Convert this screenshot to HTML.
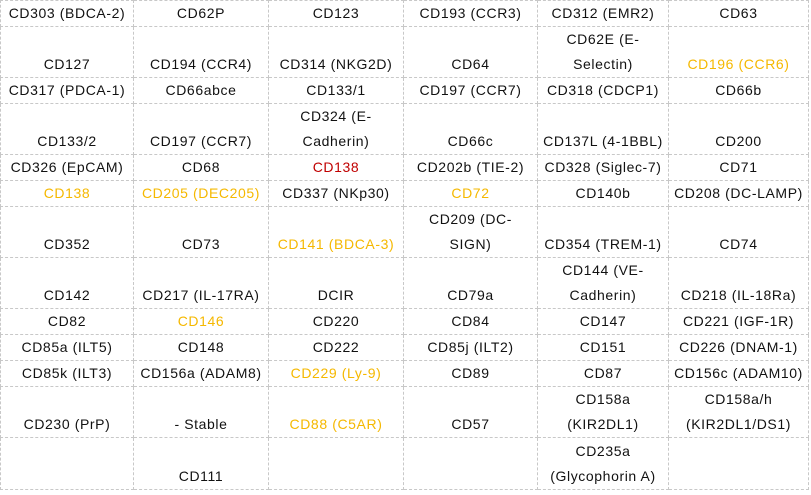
<!DOCTYPE html>
<html><head><meta charset="utf-8"><style>
body{margin:0;width:811px;height:495px;background:#fff;overflow:hidden}
table{position:absolute;left:0;top:0;border-collapse:collapse;table-layout:fixed;font-family:"Liberation Sans","DejaVu Sans",sans-serif;font-size:14px;letter-spacing:0.6px;color:#111}
td{border:1px dashed #c8c8c8;text-align:center;vertical-align:bottom;padding:0;line-height:25px;white-space:nowrap}
.o{color:#f5b800}.r{color:#c00000}
</style></head><body>
<table>
<colgroup><col style="width:133px"><col style="width:135px"><col style="width:135px"><col style="width:134px"><col style="width:131px"><col style="width:140px"></colgroup>
<tr style="height:25px"><td>CD303 (BDCA-2)</td><td>CD62P</td><td>CD123</td><td>CD193 (CCR3)</td><td>CD312 (EMR2)</td><td>CD63</td></tr>
<tr style="height:50px"><td>CD127</td><td>CD194 (CCR4)</td><td>CD314 (NKG2D)</td><td>CD64</td><td>CD62E (E-<br>Selectin)</td><td class="o">CD196 (CCR6)</td></tr>
<tr style="height:25px"><td>CD317 (PDCA-1)</td><td>CD66abce</td><td>CD133/1</td><td>CD197 (CCR7)</td><td>CD318 (CDCP1)</td><td>CD66b</td></tr>
<tr style="height:51px"><td>CD133/2</td><td>CD197 (CCR7)</td><td>CD324 (E-<br>Cadherin)</td><td>CD66c</td><td>CD137L (4-1BBL)</td><td>CD200</td></tr>
<tr style="height:25px"><td>CD326 (EpCAM)</td><td>CD68</td><td class="r">CD138</td><td>CD202b (TIE-2)</td><td>CD328 (Siglec-7)</td><td>CD71</td></tr>
<tr style="height:25px"><td class="o">CD138</td><td class="o">CD205 (DEC205)</td><td>CD337 (NKp30)</td><td class="o">CD72</td><td>CD140b</td><td>CD208 (DC-LAMP)</td></tr>
<tr style="height:51px"><td>CD352</td><td>CD73</td><td class="o">CD141 (BDCA-3)</td><td>CD209 (DC-<br>SIGN)</td><td>CD354 (TREM-1)</td><td>CD74</td></tr>
<tr style="height:51px"><td>CD142</td><td>CD217 (IL-17RA)</td><td>DCIR</td><td>CD79a</td><td>CD144 (VE-<br>Cadherin)</td><td>CD218 (IL-18Ra)</td></tr>
<tr style="height:25px"><td>CD82</td><td class="o">CD146</td><td>CD220</td><td>CD84</td><td>CD147</td><td>CD221 (IGF-1R)</td></tr>
<tr style="height:25px"><td>CD85a (ILT5)</td><td>CD148</td><td>CD222</td><td>CD85j (ILT2)</td><td>CD151</td><td>CD226 (DNAM-1)</td></tr>
<tr style="height:25px"><td>CD85k (ILT3)</td><td>CD156a (ADAM8)</td><td class="o">CD229 (Ly-9)</td><td>CD89</td><td>CD87</td><td>CD156c (ADAM10)</td></tr>
<tr style="height:51px"><td>CD230 (PrP)</td><td>- Stable</td><td class="o">CD88 (C5AR)</td><td>CD57</td><td>CD158a<br>(KIR2DL1)</td><td>CD158a/h<br>(KIR2DL1/DS1)</td></tr>
<tr style="height:52px"><td></td><td>CD111</td><td></td><td></td><td>CD235a<br>(Glycophorin A)</td><td></td></tr>
</table>
</body></html>
